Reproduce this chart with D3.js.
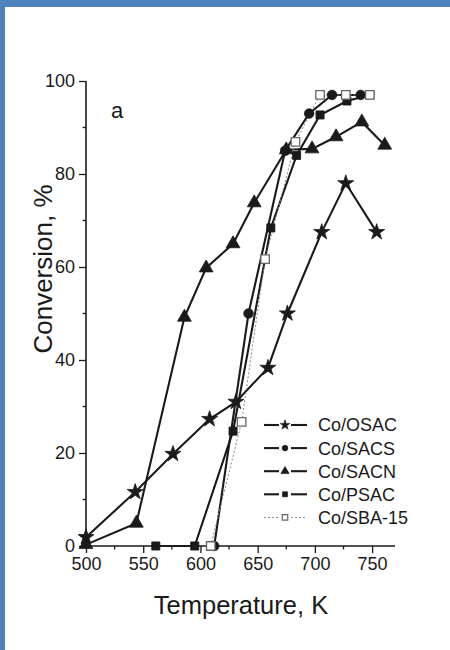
<!DOCTYPE html>
<html>
<head>
<meta charset="utf-8">
<script src="https://cdn.jsdelivr.net/npm/d3@7"></script>
<style>
  html, body { margin: 0; padding: 0; background: #fff; }
  svg { display: block; font-family: "Liberation Sans", Arial, sans-serif; }
</style>
</head>
<body>
<svg id="chart" width="450" height="650"></svg>
<script>
// Temperatures (K) and conversions (%) for each catalyst
const osacT = [500, 543, 576, 608, 631, 659, 676, 706, 727, 754];
const osacC = [1.9, 11.6, 19.8, 27.3, 31, 38.3, 50, 67.5, 78, 67.5];

const sacsT = [612, 642, 674, 695, 715, 740];
const sacsC = [0, 50, 85, 93, 97, 97];

const sacnT = [500, 544, 586, 605, 628.5, 647, 675, 697.5, 718.5, 741, 761];
const sacnC = [0.3, 4.9, 49.2, 59.8, 65, 73.8, 85.2, 85.4, 88, 91.2, 86.2];

const psacT = [561, 595, 628.5, 661.5, 684, 704.5, 728, 748];
const psacC = [0, 0, 24.7, 68.4, 84, 92.7, 95.7, 97];

const sbaT = [609, 636, 656.5, 683, 704.5, 727, 748];
const sbaC = [0, 26.7, 61.7, 86.9, 97, 97, 97];

const seriesNames = ["Co/OSAC", "Co/SACS", "Co/SACN", "Co/PSAC", "Co/SBA-15"];
const xTicks = [500, 550, 600, 650, 700, 750];
const yTicks = [0, 20, 40, 60, 80, 100];

const svg = d3.select("#chart");

// blue frame along the top and left edges
svg.append("rect").attr("x", 0).attr("y", 0).attr("width", 450).attr("height", 650).attr("fill", "#4f81bd");
svg.append("rect").attr("x", 5).attr("y", 7).attr("width", 445).attr("height", 643).attr("fill", "#ffffff");

const x = d3.scaleLinear().domain([500, 770]).range([86, 395]);
const y = d3.scaleLinear().domain([0, 100]).range([546, 81]);

const ink = "#1a1a1a";

// axes
const xAxis = d3.axisBottom(x).tickValues(xTicks).tickSize(7).tickPadding(4).tickFormat(d3.format("d"));
const gx = svg.append("g").attr("transform", `translate(0,${y(0)})`).call(xAxis);
gx.select(".domain").attr("stroke", ink).attr("stroke-width", 1.6).attr("d", `M${x(500)},0H${x(770)}`);
gx.selectAll(".tick line").attr("stroke", ink).attr("stroke-width", 1.3);
gx.selectAll(".tick text").attr("fill", ink).attr("font-size", 18).attr("font-family", "Liberation Sans, Arial, sans-serif");
gx.selectAll(".minor").data(d3.range(525, 770, 50)).enter().append("line")
  .attr("x1", d => x(d)).attr("x2", d => x(d)).attr("y1", 0).attr("y2", 3.5)
  .attr("stroke", ink).attr("stroke-width", 1.3);

const yAxis = d3.axisLeft(y).tickValues(yTicks).tickSize(7).tickPadding(4).tickFormat(d3.format("d"));
const gy = svg.append("g").attr("transform", `translate(${x(500)},0)`).call(yAxis);
gy.select(".domain").attr("stroke", ink).attr("stroke-width", 1.6).attr("d", `M0,${y(0)}V${y(100)}`);
gy.selectAll(".tick line").attr("stroke", ink).attr("stroke-width", 1.3);
gy.selectAll(".tick text").attr("fill", ink).attr("font-size", 18).attr("font-family", "Liberation Sans, Arial, sans-serif");
gy.selectAll(".minor").data(d3.range(10, 100, 20)).enter().append("line")
  .attr("y1", d => y(d)).attr("y2", d => y(d)).attr("x1", 0).attr("x2", -3.5)
  .attr("stroke", ink).attr("stroke-width", 1.3);

// axis titles
svg.append("text").attr("x", 241).attr("y", 614).attr("text-anchor", "middle")
  .attr("font-size", 25.5).attr("fill", ink).text("Temperature, K");
svg.append("text").attr("transform", "translate(52,269) rotate(-90)").attr("text-anchor", "middle")
  .attr("font-size", 26).attr("fill", ink).text("Conversion, %");
svg.append("text").attr("x", 111).attr("y", 118).attr("font-size", 22).attr("fill", ink).text("a");

const line = d3.line().x(d => x(d[0])).y(d => y(d[1]));
const zip = (ts, cs) => ts.map((t, i) => [t, cs[i]]);

const series = [
  { name: seriesNames[0], pts: zip(osacT, osacC), sym: d3.symbolStar, size: 80, leg: 30, fill: ink, stroke: ink, dash: null, lw: 2.1 },
  { name: seriesNames[1], pts: zip(sacsT, sacsC), sym: d3.symbolCircle, size: 72, leg: 26, fill: ink, stroke: ink, dash: null, lw: 2.1 },
  { name: seriesNames[2], pts: zip(sacnT, sacnC), sym: d3.symbolTriangle, size: 82, leg: 30, fill: ink, stroke: ink, dash: null, lw: 2.1 },
  { name: seriesNames[3], pts: zip(psacT, psacC), sym: d3.symbolSquare, size: 66, leg: 26, fill: ink, stroke: ink, dash: null, lw: 2.1 },
  { name: seriesNames[4], pts: zip(sbaT, sbaC), sym: d3.symbolSquare, size: 72, leg: 30, fill: "#fff", stroke: "#666", dash: "2,2", lw: 1 }
];

const plot = svg.append("g");
series.forEach(s => {
  plot.append("path").datum(s.pts).attr("d", line).attr("fill", "none")
    .attr("stroke", s.dash ? "#888" : ink).attr("stroke-width", s.lw)
    .attr("stroke-dasharray", s.dash);
});
series.forEach(s => {
  plot.selectAll(null).data(s.pts).enter().append("path")
    .attr("transform", d => `translate(${x(d[0])},${y(d[1])})`)
    .attr("d", d3.symbol().type(s.sym).size(s.size))
    .attr("fill", s.fill).attr("stroke", s.stroke).attr("stroke-width", s.dash ? 1.3 : 0.8);
});

// legend
const legend = svg.append("g");
series.forEach((s, i) => {
  const ly = 425 + i * 23.1;
  const g = legend.append("g").attr("transform", `translate(0,${ly})`);
  g.append("line").attr("x1", 264).attr("x2", 279).attr("y1", 0).attr("y2", 0)
    .attr("stroke", s.dash ? "#888" : ink).attr("stroke-width", s.lw).attr("stroke-dasharray", s.dash);
  g.append("line").attr("x1", 291).attr("x2", 307).attr("y1", 0).attr("y2", 0)
    .attr("stroke", s.dash ? "#888" : ink).attr("stroke-width", s.lw).attr("stroke-dasharray", s.dash);
  g.append("path").attr("transform", "translate(285,0)")
    .attr("d", d3.symbol().type(s.sym).size(s.leg))
    .attr("fill", s.fill).attr("stroke", s.stroke).attr("stroke-width", s.dash ? 1.2 : 0.6);
  g.append("text").attr("x", 318).attr("y", 0).attr("dy", "0.36em")
    .attr("font-size", 18).attr("fill", ink).text(s.name);
});
</script>
</body>
</html>
